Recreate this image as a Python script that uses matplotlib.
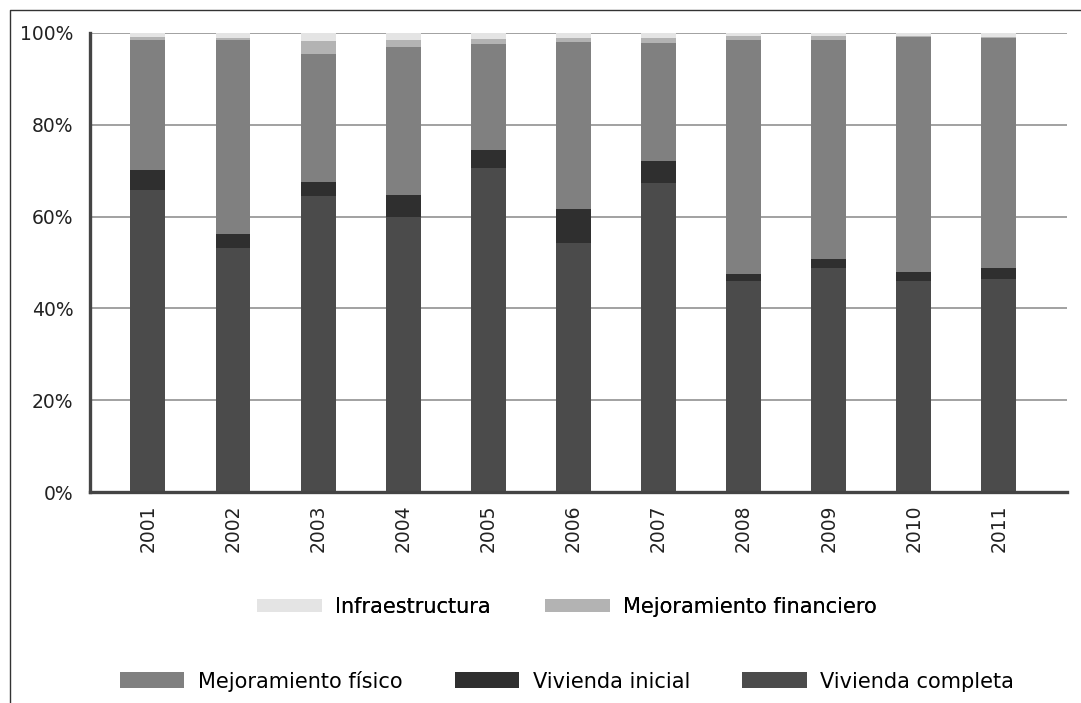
#!/usr/bin/env python3
'''stacked share of housing programme types, 2001-2011'''

import numpy as np
import matplotlib
matplotlib.use('Agg')

import matplotlib.pyplot as plt
from matplotlib.lines import Line2D
from matplotlib.patches import Patch

years = ["2001", "2002", "2003", "2004", "2005", "2006",
         "2007", "2008", "2009", "2010", "2011"]

# shares in % per year (bottom to top)
vivienda_completa = [65.8, 53.2, 64.5, 60.0, 70.6, 54.3, 67.3, 45.9, 48.8, 45.9, 46.5]
vivienda_inicial = [4.3, 3.1, 3.1, 4.8, 4.0, 7.4, 4.8, 1.6, 2.0, 2.0, 2.2]
mejoramiento_fisico = [28.4, 42.2, 27.8, 32.1, 22.9, 36.3, 25.7, 50.9, 47.7, 51.2, 50.2]
mejoramiento_financiero = [0.6, 0.5, 2.8, 1.6, 1.2, 0.9, 1.1, 0.9, 0.8, 0.2, 0.3]
infraestructura = [0.9, 1.0, 1.8, 1.5, 1.3, 1.1, 1.1, 0.7, 0.7, 0.7, 0.8]

series = [
    ("Vivienda completa", vivienda_completa, "#4b4b4b"),
    ("Vivienda inicial", vivienda_inicial, "#2f2f2f"),
    ("Mejoramiento físico", mejoramiento_fisico, "#808080"),
    ("Mejoramiento financiero", mejoramiento_financiero, "#b3b3b3"),
    ("Infraestructura", infraestructura, "#e4e4e4"),
]

plt.rcParams['font.family'] = ['DejaVu Sans']


def main():
    fig = plt.figure(figsize=(10.81, 7.03), dpi=100)
    ax = fig.add_axes([90 / 1081, 1 - 492 / 703, (1067 - 90) / 1081, (492 - 33) / 703])

    ind = np.arange(len(years))
    width = 0.41
    bottom = np.zeros(len(years))
    handles = {}
    for name, vals, col in series:
        ax.bar(ind, vals, width, bottom=bottom, color=col, linewidth=0, zorder=2)
        handles[name] = Patch(facecolor=col)
        bottom += np.array(vals)

    ax.set_xlim(-0.68, 10.8)
    ax.set_ylim(0, 100)
    ax.set_yticks(np.arange(0, 101, 20))
    ax.set_yticklabels(["%d%%" % v for v in range(0, 101, 20)])
    ax.set_xticks(ind)
    ax.set_xticklabels(years, rotation=90)
    ax.tick_params(axis='both', length=0, labelsize=13.5, colors='#222222')
    ax.tick_params(axis='y', pad=12)
    ax.tick_params(axis='x', pad=9)

    ax.set_axisbelow(True)
    ax.yaxis.grid(True, color='#9a9a9a', linewidth=1.3)
    for s in ("top", "right"):
        ax.spines[s].set_visible(False)
    for s in ("left", "bottom"):
        ax.spines[s].set_color('#444444')
        ax.spines[s].set_linewidth(2.4)

    # two legend rows below the chart
    row1 = ["Infraestructura", "Mejoramiento financiero"]
    row2 = ["Mejoramiento físico", "Vivienda inicial", "Vivienda completa"]
    leg1 = fig.legend([handles[n] for n in row1], row1, loc='center',
                      bbox_to_anchor=(567 / 1081, 1 - 607 / 703), ncol=2,
                      frameon=False, fontsize=15, handlelength=3.1, handleheight=0.6,
                      handletextpad=0.65, columnspacing=2.6)
    fig.legend([handles[n] for n in row2], row2, loc='center',
               bbox_to_anchor=(567 / 1081, 1 - 681 / 703), ncol=3,
               frameon=False, fontsize=15, handlelength=3.1, handleheight=0.8,
               handletextpad=0.65, columnspacing=2.5)
    fig.add_artist(leg1)

    # frame line on left and top of the figure
    x0 = 9.5 / 1081
    y0 = 1 - 9.5 / 703
    fig.add_artist(Line2D([x0, x0, 1], [0, y0, y0], transform=fig.transFigure,
                          color='#333333', linewidth=1))

    plt.savefig("out.png", dpi=100)


if __name__ == "__main__":
    main()
